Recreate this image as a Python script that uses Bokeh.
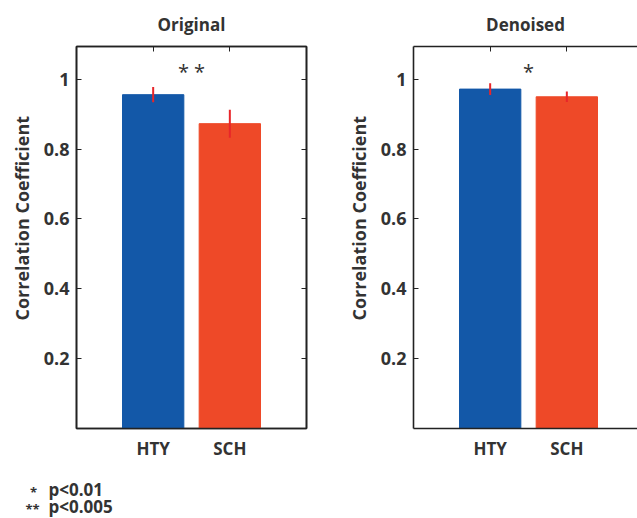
from bokeh.plotting import figure
from bokeh.models import Range1d, FixedTicker, LinearAxis, Label, Title
from bokeh.layouts import row, column
from bokeh.core.properties import value
from bokeh.embed import file_html
from bokeh.resources import INLINE

groups = ["HTY", "SCH"]
positions = [1, 2]
original_means = [0.956, 0.873]
original_err = [0.022, 0.040]
denoised_means = [0.972, 0.950]
denoised_err = [0.017, 0.015]
bar_colors = ["#1358A8", "#EE4928"]
err_color = "#E8262A"
y_ticks = [0.2, 0.4, 0.6, 0.8, 1.0]
y_tick_labels = {0.2: "0.2", 0.4: "0.4", 0.6: "0.6", 0.8: "0.8", 1.0: "1"}
footnote_stars = ["*", "**"]
footnote_texts = ["p<0.01", "p<0.005"]

FONT = "Open Sans"
TXT = "#333333"
AX = "#222222"
PX_PER_UNIT = 230 / 3.0
YMAX = 1.094


def tick_only_axis(ticks):
    a = LinearAxis(ticker=FixedTicker(ticks=ticks),
                   major_label_overrides={t: "" for t in ticks})
    a.major_tick_in = 5
    a.major_tick_out = 0
    a.minor_tick_in = 0
    a.minor_tick_out = 0
    a.axis_line_width = 1.6
    a.axis_line_color = AX
    a.major_tick_line_color = AX
    a.major_label_text_font_size = "1px"
    a.major_label_standoff = 0
    return a


def make_panel(title, means, errs, star, width, left, right, full_box):
    frame_w = width - left - right
    p = figure(width=width, height=466, output_backend="svg", toolbar_location=None,
               x_range=Range1d(0, frame_w / PX_PER_UNIT), y_range=Range1d(0, YMAX),
               min_border_left=left, min_border_right=right, min_border_top=45,
               min_border_bottom=38, x_axis_location=None, y_axis_location=None)
    p.grid.visible = False
    if full_box:
        p.outline_line_color = AX
        p.outline_line_width = 1.6
    else:
        p.outline_line_color = None

    p.title.text = title
    p.title.align = "center"
    p.title.text_font = FONT
    p.title.text_font_style = "bold"
    p.title.text_font_size = "17px"
    p.title.text_color = TXT
    p.title.standoff = 21

    ya = LinearAxis(ticker=FixedTicker(ticks=y_ticks), major_label_overrides=y_tick_labels)
    ya.major_tick_in = 5
    ya.major_tick_out = 0
    ya.minor_tick_in = 0
    ya.minor_tick_out = 0
    ya.axis_line_width = 1.6
    ya.axis_line_color = AX
    ya.major_tick_line_color = AX
    ya.major_label_text_font = FONT
    ya.major_label_text_font_style = "bold"
    ya.major_label_text_font_size = "18px"
    ya.major_label_text_color = TXT
    ya.major_label_standoff = 7
    p.add_layout(ya, "left")

    ylab = Title(text="Correlation Coefficient", align="left", offset=108,
                 text_font=FONT, text_font_style="bold", text_font_size="18px",
                 text_color=TXT, standoff=13)
    p.add_layout(ylab, "left")

    xa = LinearAxis(ticker=FixedTicker(ticks=positions),
                    major_label_overrides={1: groups[0], 2: groups[1]})
    xa.major_tick_in = 0
    xa.major_tick_out = 0
    xa.minor_tick_in = 0
    xa.minor_tick_out = 0
    xa.axis_line_width = 1.6
    xa.axis_line_color = AX
    xa.major_label_text_font = FONT
    xa.major_label_text_font_style = "bold"
    xa.major_label_text_font_size = "17px"
    xa.major_label_text_color = TXT
    xa.major_label_standoff = 8
    p.add_layout(xa, "below")

    p.add_layout(tick_only_axis(positions), "above")
    if full_box:
        p.add_layout(tick_only_axis(y_ticks), "right")

    p.vbar(x=positions, top=means, width=0.8, bottom=0, fill_color=bar_colors,
           line_color=bar_colors, line_width=1)
    lows = [m - e for m, e in zip(means, errs)]
    highs = [m + e for m, e in zip(means, errs)]
    p.segment(x0=positions, x1=positions, y0=lows, y1=highs, line_color=err_color, line_width=2)

    p.add_layout(Label(x=1.5, y=1.022, text=star, text_align="center", text_baseline="alphabetic",
                       text_font=FONT, text_font_size="20px", text_color=TXT))
    return p


p1 = make_panel("Original", original_means, original_err, "* *", 320, 76, 14, True)
p2 = make_panel("Denoised", denoised_means, denoised_err, "*", 317, 93, 0, False)

# footnote strip (coordinates in pixels of the strip)
pf = figure(width=637, height=52, output_backend="svg", toolbar_location=None,
            x_range=Range1d(0, 637), y_range=Range1d(52, 0), min_border=0,
            x_axis_location=None, y_axis_location=None)
pf.grid.visible = False
pf.outline_line_color = None
text_y = [23, 40]
star_y = [t + 2 for t in text_y]
pf.text(x=[33, 32], y=star_y, text=footnote_stars, text_align="center",
        text_baseline="alphabetic", text_font=value(FONT), text_font_style="bold",
        text_font_size="13px", text_color=TXT)
pf.text(x=[48, 48], y=text_y, text=footnote_texts, text_align="left",
        text_baseline="alphabetic", text_font=value(FONT), text_font_style="bold",
        text_font_size="17px", text_color=TXT)

layout = column(row(p1, p2), pf)
open("out.html", "w").write(file_html(layout, INLINE))
